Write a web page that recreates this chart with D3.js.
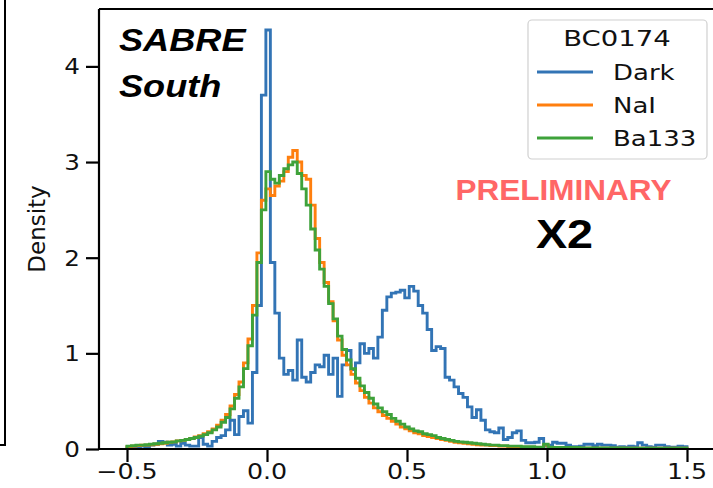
<!DOCTYPE html>
<html><head><meta charset="utf-8">
<script src="https://cdn.jsdelivr.net/npm/d3@7"></script>
<style>body{margin:0;background:#fff}svg{display:block}</style>
</head><body><svg id="c" width="713" height="488"></svg>
<script>
const binStart = -0.5, binWidth = 0.016;
const dark = [0.02,0.015,0.02,0.03,0.02,0.04,0.05,0.08,0.07,0.04,
  0.05,0.03,0.06,0.04,0.03,0.03,0.12,0.05,0.03,0.08,
  0.12,0.14,0.2,0.3,0.15,0.34,0.4,0.27,0.8,1.5,
  3.7,4.38,1.95,1.42,0.95,0.78,0.82,0.72,1.14,0.75,
  0.7,0.8,0.88,0.86,0.98,0.78,0.95,0.55,0.88,1.03,
  0.83,0.9,1.1,1.0,1.05,0.95,1.17,1.45,1.59,1.63,
  1.64,1.66,1.58,1.7,1.65,1.5,1.42,1.25,1.03,1.07,
  1.05,0.75,0.72,0.65,0.58,0.54,0.44,0.33,0.41,0.3,
  0.2,0.18,0.17,0.22,0.1,0.12,0.17,0.19,0.09,0.065,
  0.065,0.07,0.11,0.03,0.04,0.07,0.06,0.06,0.04,0.025,
  0.025,0.03,0.05,0.05,0.035,0.05,0.04,0.04,0.035,0.02,
  0.025,0.02,0.03,0.025,0.065,0.04,0.025,0.02,0.04,0.04,
  0.025,0.02,0.02,0.03,0.025];
const nai = [0.025,0.03,0.035,0.04,0.04,0.045,0.05,0.055,0.06,0.07,
  0.075,0.085,0.09,0.1,0.11,0.125,0.14,0.16,0.18,0.21,
  0.25,0.3,0.36,0.45,0.57,0.7,0.9,1.15,1.5,2.05,
  2.6,2.72,2.65,2.75,2.8,2.9,3.05,3.12,3.0,2.86,
  2.82,2.55,2.2,1.95,1.74,1.54,1.34,1.14,0.98,0.88,
  0.78,0.69,0.61,0.54,0.48,0.43,0.39,0.35,0.32,0.29,
  0.26,0.23,0.21,0.19,0.17,0.16,0.14,0.13,0.12,0.11,
  0.1,0.09,0.08,0.07,0.065,0.06,0.055,0.05,0.045,0.04,
  0.04,0.035,0.035,0.03,0.03,0.025,0.025,0.02,0.02,0.02,
  0.02,0.015,0.015,0.04,0.015,0.012,0.012,0.012,0.012,0.012,
  0.012,0.008,0.008,0.008,0.008,0.008,0.008,0.008,0.008,0.008,
  0.008,0.008,0.008,0.008,0.008,0.008,0.008,0.008,0.008,0.008,
  0.008,0.008,0.008,0.008,0.008];
const ba133 = [0.03,0.035,0.04,0.04,0.045,0.05,0.055,0.06,0.065,0.07,
  0.075,0.085,0.09,0.1,0.11,0.12,0.135,0.15,0.17,0.2,
  0.23,0.28,0.33,0.42,0.53,0.65,0.84,1.08,1.4,1.95,
  2.5,2.9,2.82,2.78,2.86,2.93,2.97,3.0,2.88,2.72,
  2.55,2.3,2.08,1.88,1.7,1.52,1.36,1.18,1.04,0.93,
  0.84,0.74,0.66,0.59,0.53,0.47,0.43,0.39,0.36,0.32,
  0.29,0.26,0.23,0.21,0.19,0.18,0.16,0.15,0.14,0.12,
  0.11,0.1,0.09,0.08,0.075,0.07,0.065,0.06,0.055,0.05,
  0.045,0.04,0.04,0.035,0.035,0.03,0.03,0.03,0.025,0.025,
  0.025,0.02,0.02,0.05,0.02,0.015,0.015,0.015,0.015,0.015,
  0.015,0.01,0.01,0.01,0.01,0.01,0.01,0.01,0.01,0.01,
  0.01,0.008,0.008,0.008,0.008,0.008,0.008,0.008,0.008,0.008,
  0.008,0.008,0.008,0.008,0.008];
const seriesNames = ["Dark","NaI","Ba133"];
const seriesColors = ["#3274b5","#ff7f0e","#3ea23a"];
const xTicks = [-0.5,0,0.5,1,1.5];
const yTicks = [0,1,2,3,4];
const legendTitle = "BC0174";

const svg = d3.select("#c");
const L = 99, T = 9, B = 449;
const x = d3.scaleLinear().domain([-0.5,1.5]).range([127,687]);
const y = d3.scaleLinear().domain([0,4.6]).range([B,T]);

function txt(px, py, s, o){
  const t = svg.append("text")
    .attr("transform", `translate(${px},${py}) scale(${o.sx||1},1)`)
    .attr("text-anchor", o.anchor||"start")
    .attr("font-family", o.family||"DejaVu Sans")
    .attr("font-size", o.size)
    .attr("fill", o.fill||"#111")
    .text(s);
  if (o.bold) t.attr("font-weight","bold");
  if (o.italic) t.attr("font-style","italic");
  return t;
}

// left neighbour panel frame
svg.append("path").attr("d","M5,0V445H0").attr("fill","none").attr("stroke","#000").attr("stroke-width",2);

function stepPath(vals){
  let d = `M${x(binStart)},${y(0)}`;
  vals.forEach((v,i)=>{
    const x1 = x(binStart+(i+1)*binWidth);
    d += `V${y(v)}H${x1}`;
  });
  d += `V${y(0)}`;
  return d;
}
const g = svg.append("g");
[dark,nai,ba133].forEach((vals,i)=>{
  g.append("path").attr("d",stepPath(vals)).attr("fill","none")
   .attr("stroke",seriesColors[i]).attr("stroke-width",2.9).attr("stroke-linejoin","miter");
});

svg.append("line").attr("x1",L).attr("x2",L).attr("y1",T).attr("y2",B).attr("stroke","#000").attr("stroke-width",2.2);
svg.append("line").attr("x1",L).attr("x2",713).attr("y1",T).attr("y2",T).attr("stroke","#000").attr("stroke-width",2.2);
svg.append("line").attr("x1",L-1).attr("x2",713).attr("y1",B).attr("y2",B).attr("stroke","#000").attr("stroke-width",2.2);

const xAxis = d3.axisBottom(x).tickValues(xTicks).tickSize(13).tickFormat("");
const gx = svg.append("g").attr("transform",`translate(0,${B})`).call(xAxis);
gx.select(".domain").remove();
gx.selectAll(".tick line").attr("stroke","#000").attr("stroke-width",2.2);
const fx = d3.format(".1f");
xTicks.forEach(v => txt(x(v), 479, fx(v), {size:22, sx:1.15, anchor:"middle"}));

const yAxis = d3.axisLeft(y).tickValues(yTicks).tickSize(13).tickFormat("");
const gy = svg.append("g").attr("transform",`translate(${L},0)`).call(yAxis);
gy.select(".domain").remove();
gy.selectAll(".tick line").attr("stroke","#000").attr("stroke-width",2.2);
yTicks.forEach(v => txt(80, y(v)+8, d3.format("d")(v), {size:22, sx:1.12, anchor:"end"}));

svg.append("text").attr("transform",`translate(45,${(T+B)/2}) rotate(-90)`).attr("text-anchor","middle")
  .attr("font-family","DejaVu Sans").attr("font-size",23).attr("fill","#111").text("Density");

// SABRE South
txt(119, 51, "SABRE", {size:32, sx:1.13, family:"Liberation Sans", bold:true, italic:true, fill:"#000"});
txt(119, 97, "South", {size:32, sx:1.13, family:"Liberation Sans", bold:true, italic:true, fill:"#000"});

// legend
svg.append("rect").attr("x",528).attr("y",20).attr("width",179).attr("height",139).attr("rx",4)
  .attr("fill","#fff").attr("fill-opacity",0.8).attr("stroke","#d0d0d0").attr("stroke-width",1.2);
txt(617, 46, legendTitle, {size:22, sx:1.25, anchor:"middle"});
seriesNames.forEach((n,i)=>{
  const yy = 72 + i*33;
  svg.append("line").attr("x1",537).attr("x2",593).attr("y1",yy).attr("y2",yy).attr("stroke",seriesColors[i]).attr("stroke-width",2.9);
  txt(613, yy+8, n, {size:22, sx:1.18});
});

txt(563.5, 200, "PRELIMINARY", {size:30, sx:1.05, family:"Liberation Sans", bold:true, fill:"#ff6666", anchor:"middle"});
txt(564.5, 248, "X2", {size:41, sx:1.14, family:"Liberation Sans", bold:true, fill:"#000", anchor:"middle"});
</script></body></html>
